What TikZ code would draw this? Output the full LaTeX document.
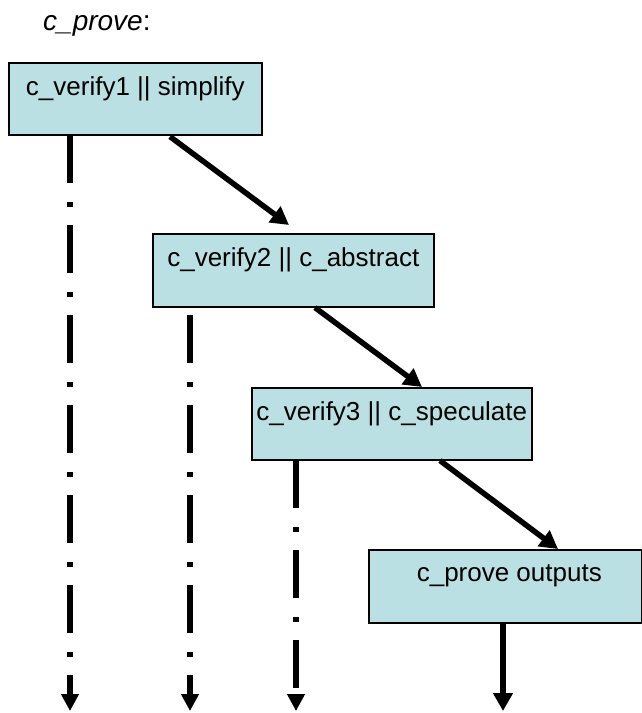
\documentclass[tikz,border=0pt]{standalone}
\usepackage{fontspec}
\setmainfont{Liberation Sans}
\usetikzlibrary{arrows.meta,calc}
\definecolor{boxfill}{RGB}{187,224,227}
\tikzset{
  box/.style={draw=black, line width=1.6pt, fill=boxfill, rectangle, inner sep=0pt, anchor=north west},
  boxtext/.style={anchor=base, inner sep=0pt, font=\fontsize{26}{30}\selectfont},
  flow/.style={line width=5.5pt, -{Triangle[length=18pt,width=19pt]}},
  thread/.style={line width=5.5pt, dash pattern=on 48pt off 19pt on 5pt off 18pt, -{Triangle[length=17pt,width=17pt]}}
}
\begin{document}
\begin{tikzpicture}[x=1pt,y=-1pt]
\useasboundingbox (0,0) rectangle (642,713);
\node[anchor=base west, inner sep=0pt, font=\fontsize{28}{32}\selectfont] (title) at (43,30) {\textit{c\_prove}:};

\node[box, minimum width=253pt, minimum height=72pt] (b1) at (8,62) {};
\node[box, minimum width=281pt, minimum height=73pt] (b2) at (152,233) {};
\node[box, minimum width=280pt, minimum height=72pt] (b3) at (251,387) {};
\node[box, minimum width=273pt, minimum height=73pt] (b4) at (368,549) {};

\node[boxtext] (t1) at ($(b1.north)+(0,33)$) {c\_verify1 || simplify};
\node[boxtext] (t2) at ($(b2.north)+(0,33)$) {c\_verify2 || c\_abstract};
\node[boxtext] (t3) at ($(b3.north)+(0,33)$) {c\_verify3 || c\_speculate};
\node[boxtext] (t4) at ($(b4.north)+(4,32)$) {c\_prove outputs};

% diagonal arrows
\coordinate (a1s) at ($(b1.south west)+(162,1)$);
\coordinate (a1e) at ($(b2.north west)+(137,-8)$);
\coordinate (a2s) at ($(b2.south west)+(163,0)$);
\coordinate (a2e) at ($(b3.north west)+(171,0)$);
\coordinate (a3s) at ($(b3.south west)+(189,0)$);
\coordinate (a3e) at ($(b4.north west)+(190,0)$);
\draw[flow] (a1s) -- (a1e);
\draw[flow] (a2s) -- (a2e);
\draw[flow] (a3s) -- (a3e);

% vertical threads
\coordinate (v1s) at (70,135);
\coordinate (v1e) at (70,711);
\coordinate (v2s) at (190,315);
\coordinate (v2e) at (190,711);
\coordinate (v3s) at (296,460);
\coordinate (v3e) at (296,711);
\coordinate (v4s) at ($(b4.south west)+(135,0)$);
\coordinate (v4e) at (503,711);
\draw[thread] (v1s) -- (v1e);
\draw[thread] (v2s) -- (v2e);
\draw[thread] (v3s) -- (v3e);
\draw[flow] (v4s) -- (v4e);
\end{tikzpicture}
\end{document}
